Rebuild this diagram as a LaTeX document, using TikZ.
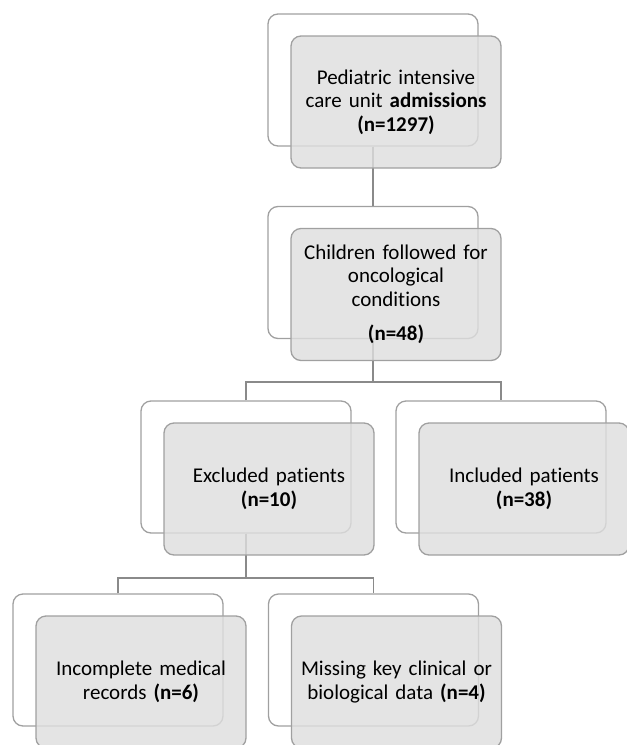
\documentclass[tikz,border=0pt]{standalone}
\usepackage{fontspec}
\setmainfont{Carlito}[Ligatures=NoCommon]
\usepackage{xcolor}
\usepackage{tikz}
\usetikzlibrary{positioning}

\definecolor{linegray}{RGB}{138,138,138}
\definecolor{boxgray}{RGB}{160,160,160}
\definecolor{fillgray}{RGB}{222,222,222}

\tikzset{
  backbox/.style={draw=boxgray, line width=1.3pt, rounded corners=10pt,
    minimum width=210pt, minimum height=132pt, inner sep=0pt},
  frontbox/.style={draw=boxgray, line width=1.3pt, rounded corners=10pt,
    fill=fillgray, fill opacity=0.82, text opacity=1,
    minimum width=210pt, minimum height=132pt, inner sep=0pt,
    align=center, text width=200pt, font=\fontsize{21}{23.5}\selectfont,
    xshift=23pt, yshift=-22pt},
  link/.style={draw=linegray, line width=1.6pt}
}

\begin{document}
\begin{tikzpicture}[x=1pt, y=-1pt]
                    \useasboundingbox (0,0) rectangle (627,745);
                    % Back boxes
                    \node[backbox] (picu) at (373,80) {};
                    \node[backbox] (onco) at (373,272.5) {};
                    \node[backbox] (excl) at (246,467) {};
                    \node[backbox] (incl) at (501,467) {};
                    \node[backbox] (incomp) at (118,660) {};
                    \node[backbox] (miss) at (373.5,660) {};
                    % Junctions
                    \coordinate (j1) at (373,382);
                    \coordinate (j2) at (246,578);
                    % Links
                    \draw[link] (picu) -- (onco);
                    \draw[link] (onco.south) -- (j1);
                    \draw[link] (excl.north) |- (j1) -| (incl.north);
                    \draw[link] (excl.south) -- (j2);
                    \draw[link] (incomp.north) |- (j2) -| (miss.north);
                    % Front boxes
                    \node[frontbox] (picuF) at (picu) {Pediatric intensive\\care unit \textbf{admissions}\\\textbf{(n=1297)}};
                    \node[frontbox] (oncoF) at (onco) {Children followed for\\oncological\\conditions\\[11pt]\textbf{(n=48)}};
                    \node[frontbox] (exclF) at (excl) {Excluded patients\\\textbf{(n=10)}};
                    \node[frontbox] (inclF) at (incl) {Included patients\\\textbf{(n=38)}};
                    \node[frontbox] (incompF) at (incomp) {Incomplete medical\\records \textbf{(n=6)}};
                    \node[frontbox] (missF) at (miss) {Missing key clinical or\\biological data \textbf{(n=4)}};
                \end{tikzpicture}
\end{document}
